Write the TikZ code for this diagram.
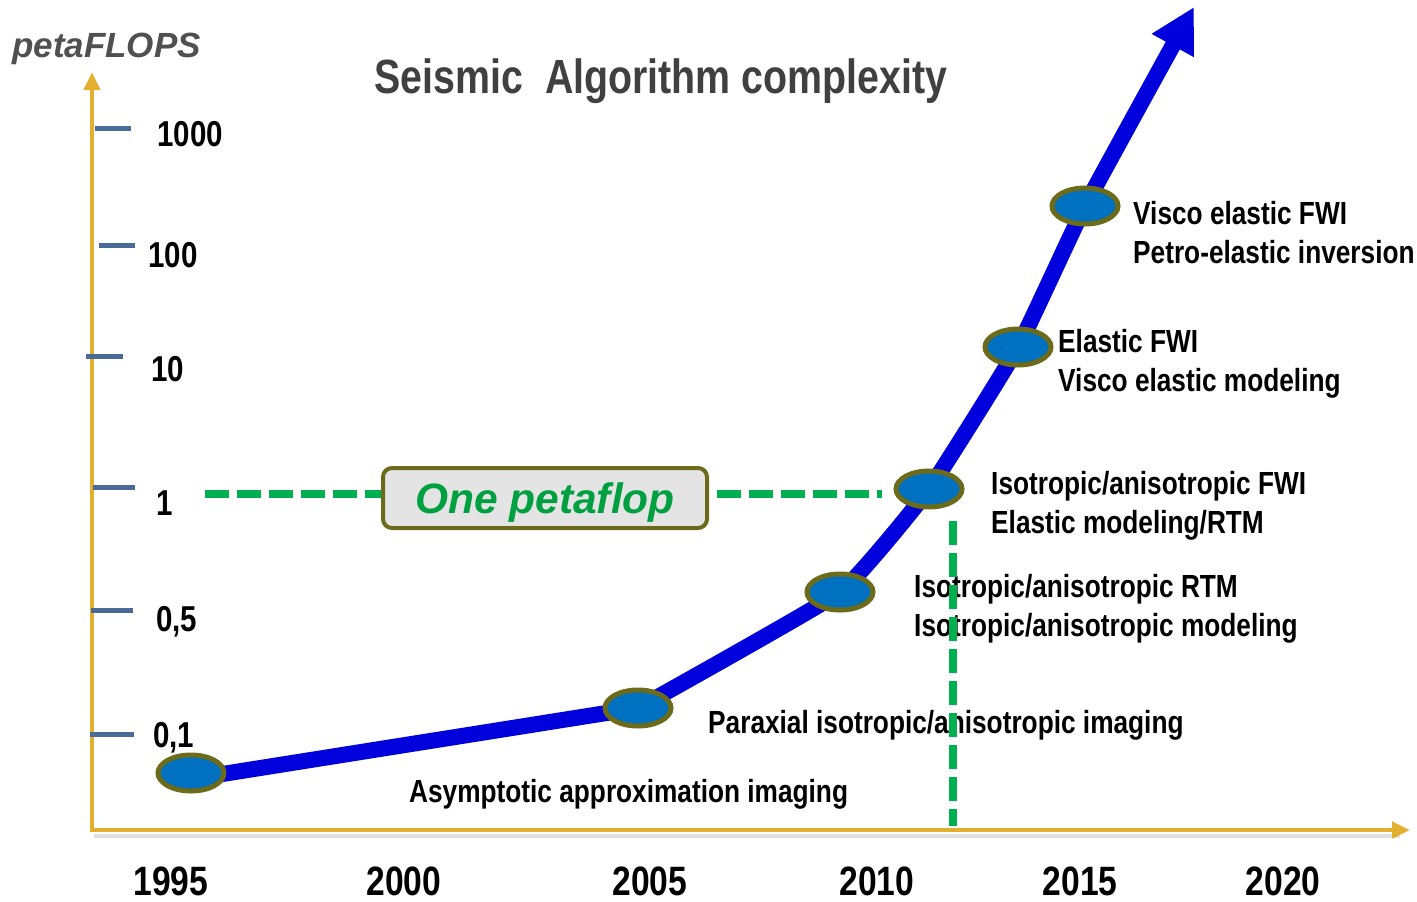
\documentclass[tikz,border=0pt]{standalone}
\usepackage{fontspec}
\setmainfont{Liberation Sans}
\newfontfamily\narrowsans{Liberation Sans}[FakeStretch=0.82]
\usetikzlibrary{arrows.meta,shapes.geometric}
\definecolor{axisgold}{HTML}{E3AF2F}
\definecolor{tickblue}{HTML}{4A6A98}
\definecolor{curveblue}{HTML}{0000DC}
\definecolor{dotblue}{HTML}{0070C0}
\definecolor{olivering}{HTML}{6B6B1B}
\definecolor{dashgreen}{HTML}{00B050}
\definecolor{labelgreen}{HTML}{00A040}
\definecolor{titlegray}{HTML}{404040}
\definecolor{unitgray}{HTML}{505050}
\definecolor{boxfill}{HTML}{E4E4E4}
\begin{document}
\begin{tikzpicture}[x=1pt,y=-1pt,
  axisline/.style={draw=axisgold, line width=4.5pt, -{Triangle[length=18pt,width=16pt]}},
  axisshadow/.style={draw=black!12, line width=4pt},
  tickmark/.style={draw=tickblue, line width=5pt},
  ticklabel/.style={font=\narrowsans\bfseries\fontsize{36}{40}\selectfont, anchor=west, inner sep=0pt},
  yearlabel/.style={font=\narrowsans\bfseries\fontsize{41}{46}\selectfont, inner sep=0pt, anchor=base},
  milestone/.style={ellipse, draw=olivering, line width=5pt, fill=dotblue, minimum width=66pt, minimum height=36pt, inner sep=0pt},
  note/.style={font=\narrowsans\bfseries\fontsize{32}{39}\selectfont, align=left, anchor=west, inner sep=0pt},
  growth/.style={draw=curveblue, line width=16pt, -{Triangle[length=44pt,width=45pt]}},
  guide/.style={draw=dashgreen, line width=7.5pt, dash pattern=on 24pt off 8pt},
  callout/.style={draw=olivering, line width=4pt, fill=boxfill, rounded corners=9pt, minimum width=324pt, minimum height=60pt, inner sep=0pt, text depth=0pt, text=labelgreen, font=\bfseries\itshape\fontsize{42.5}{46}\selectfont}
]
\useasboundingbox (0,0) rectangle (1417,902);

% axes
\coordinate (origin) at (92,830);
\coordinate (ytop) at (92,72);
\coordinate (xend) at (1410,830);
\draw[axisshadow] (94,836) -- (1400,836);
\draw[axisline] (origin) -- (ytop);
\draw[axisline] (90,830) -- (xend);

% axis titles
\node[font=\bfseries\itshape\fontsize{35}{40}\selectfont, text=unitgray, anchor=west, inner sep=0pt] (unit) at (12,49) {petaFLOPS};
\node[font=\narrowsans\bfseries\fontsize{48}{52}\selectfont, text=titlegray, inner sep=0pt, anchor=base] (title) at (661,93) {Seismic\ \ Algorithm complexity};

% vertical scale
\draw[tickmark] (95,128) -- (131,128);
\draw[tickmark] (99,245) -- (135,245);
\draw[tickmark] (86,356) -- (123,356);
\draw[tickmark] (93,487) -- (135,487);
\draw[tickmark] (91,610) -- (133,610);
\draw[tickmark] (90,734) -- (134,734);
\node[ticklabel] (t1000) at (157,134) {1000};
\node[ticklabel] (t100) at (148,255) {100};
\node[ticklabel] (t10) at (151,369) {10};
\node[ticklabel] (t1) at (156,503) {1};
\node[ticklabel] (t05) at (156,622) {0,5};
\node[ticklabel] (t01) at (153,738) {0,1};

% years
\node[yearlabel] (y1995) at (171,895) {1995};
\node[yearlabel] (y2000) at (404,895) {2000};
\node[yearlabel] (y2005) at (650,895) {2005};
\node[yearlabel] (y2010) at (877,895) {2010};
\node[yearlabel] (y2015) at (1080,895) {2015};
\node[yearlabel] (y2020) at (1283,895) {2020};

% milestones
\coordinate (m1) at (191,773);
\coordinate (m2) at (638,708);
\coordinate (m3) at (840,592);
\coordinate (m4) at (929,489);
\coordinate (m5) at (1018,347);
\coordinate (m6) at (1085,206);
\coordinate (tip) at (1194,7);
\draw[growth] ([yshift=-6pt]m1) -- plot[smooth, tension=0.22] coordinates {(m2) (m3) (m4) (m5) (m6) (tip)};
\node[milestone] (e1) at (m1) {};
\node[milestone] (e2) at (m2) {};
\node[milestone] (e3) at (m3) {};
\node[milestone] (e4) at (m4) {};
\node[milestone] (e5) at (m5) {};
\node[milestone] (e6) at (m6) {};

% descriptions
\node[note] (n6) at (1133,233) {Visco elastic FWI\\Petro-elastic inversion};
\node[note] (n5) at (1058,364) {Elastic FWI\\Visco elastic modeling};
\node[note] (n4) at (991,506) {Isotropic/anisotropic FWI\\Elastic modeling/RTM};
\node[note] (n3) at (914,609) {Isotropic/anisotropic RTM\\Isotropic/anisotropic modeling};
\node[note] (n2) at (708,725) {Paraxial isotropic/anisotropic imaging};
\node[note] (n1) at (409,794) {Asymptotic approximation imaging};

% one petaflop level
\node[callout] (peta) at (545,498) {One petaflop};
\coordinate (hstart) at (205,494);
\coordinate (hend) at (882,494);
\coordinate (vtop) at (953,521);
\coordinate (vbot) at (953,826);
\draw[guide] (hstart) -- (hstart -| peta.west);
\draw[guide] ([xshift=8pt]hend -| peta.east) -- (hend);
\draw[guide] (vtop) -- (vbot);
\end{tikzpicture}
\end{document}
